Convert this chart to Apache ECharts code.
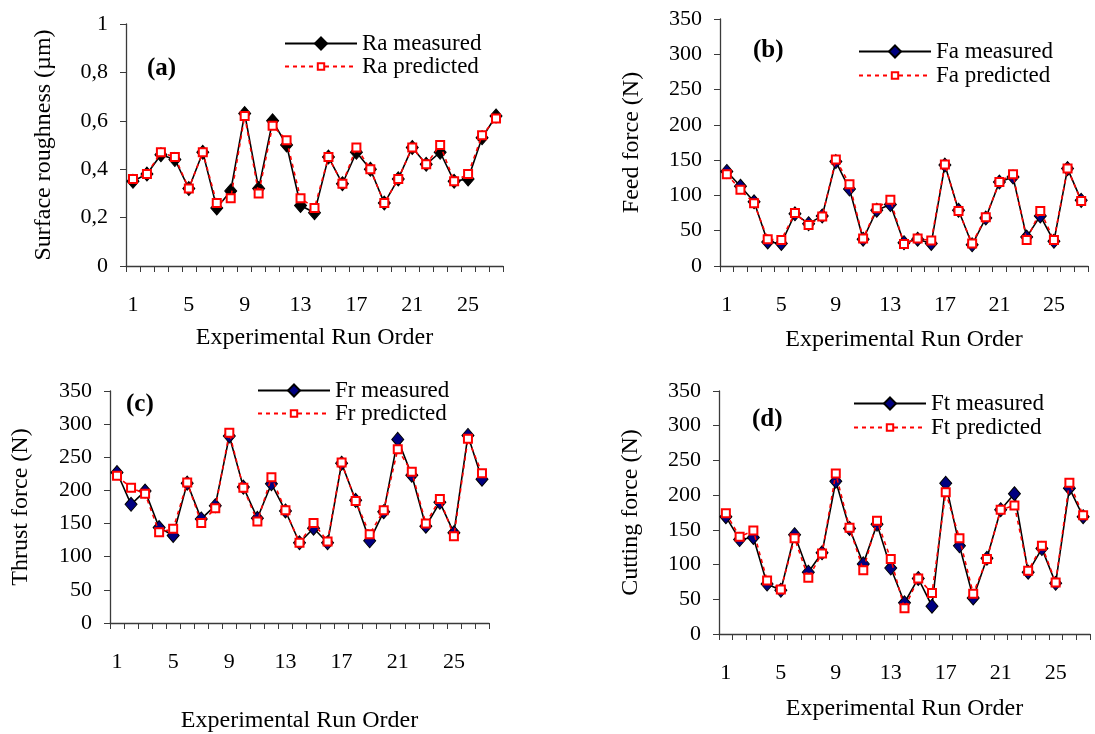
<!DOCTYPE html>
<html lang="en">
<head>
    <meta charset="UTF-8">
    <title>Measured vs predicted</title>
    <script src="https://cdn.jsdelivr.net/npm/echarts@6/dist/echarts.min.js"></script>
</head>
<body style="margin:0;background:#fff">
    <div id="chart" style="width:1095px;height:734px;"></div>
<script type="text/javascript">
    // run order categories (x axis)
    var runOrder = ['1','2','3','4','5','6','7','8','9','10','11','12','13','14','15','16','17','18','19','20','21','22','23','24','25','26','27'];

    // (a) surface roughness
    var raMeasured  = [0.35,0.38,0.46,0.44,0.32,0.47,0.24,0.31,0.63,0.32,0.60,0.50,0.25,0.22,0.45,0.34,0.47,0.40,0.26,0.36,0.49,0.42,0.47,0.35,0.36,0.53,0.62];
    var raPredicted = [0.36,0.38,0.47,0.45,0.32,0.47,0.26,0.28,0.62,0.30,0.58,0.52,0.28,0.24,0.45,0.34,0.49,0.40,0.26,0.36,0.49,0.42,0.50,0.35,0.38,0.54,0.61];

    // (b) feed force
    var faMeasured  = [134,113,91,34,32,74,60,71,148,109,38,79,87,33,38,32,143,79,30,68,119,126,41,71,35,138,93];
    var faPredicted = [130,108,89,38,37,75,58,70,151,116,39,82,94,31,39,36,144,78,32,69,119,130,37,78,37,138,92];

    // (c) thrust force
    var frMeasured  = [227,179,199,144,132,211,157,177,282,205,158,210,169,121,143,121,241,185,124,168,277,223,146,182,136,283,217];
    var frPredicted = [222,204,195,137,142,212,151,173,287,204,153,220,170,121,151,123,242,184,134,170,262,228,150,187,131,278,226];

    // (d) cutting force
    var ftMeasured  = [169,136,139,72,63,143,89,117,220,152,101,158,95,45,80,40,217,127,52,109,179,202,89,123,73,210,169];
    var ftPredicted = [174,140,149,77,64,138,81,116,231,153,92,163,108,37,80,59,204,138,58,108,179,185,91,127,74,218,171];

    var yLabelsA = ['0','0,2','0,4','0,6','0,8','1'];

    var FONT = "'Liberation Serif','Times New Roman',serif";
    var AXIS_COLOR = '#3a3a3a';

    var chart = echarts.init(document.getElementById('chart'));

    // one grid per panel
    var grids = [
        {left:126, right:592, top:24,  bottom:468},
        {left:720, right:7,   top:19,  bottom:468},
        {left:110, right:606, top:391, bottom:100},
        {left:719, right:5,   top:391, bottom:100}
    ];
    var xNameGaps = [60, 62, 86, 63];
    var yNames = ['Surface roughness (\u00b5m)','Feed force (N)','Thrust force (N)','Cutting force (N)'];
    var yNameGaps = [70, 76, 77, 76];

    function xAxisFor(i){
        return {
            type:'category', gridIndex:i, data:runOrder, boundaryGap:true,
            name:'Experimental Run Order', nameLocation:'middle', nameGap:xNameGaps[i],
            nameTextStyle:{fontFamily:FONT, fontSize:24, color:'#000'},
            axisLine:{lineStyle:{color:AXIS_COLOR, width:1.3}},
            axisTick:{show:true, interval:0, length:6, lineStyle:{color:AXIS_COLOR}},
            axisLabel:{interval:3, margin:28, fontFamily:FONT, fontSize:22, color:'#000'},
            splitLine:{show:false}
        };
    }
    function yAxisFor(i){
        var ax = {
            type:'value', gridIndex:i,
            name:yNames[i], nameLocation:'middle', nameGap:yNameGaps[i], nameRotate:90,
            nameTextStyle:{fontFamily:FONT, fontSize:24, color:'#000'},
            axisLine:{show:true, lineStyle:{color:AXIS_COLOR, width:1.3}},
            axisTick:{show:true, length:6, lineStyle:{color:AXIS_COLOR}},
            axisLabel:{margin:18, fontFamily:FONT, fontSize:22, color:'#000'},
            splitLine:{show:false}
        };
        if(i == 0){
            ax.min = 0; ax.max = 1; ax.interval = 0.2;
            ax.axisLabel.formatter = function(v){ return yLabelsA[Math.round(v/0.2)]; };
        }else{
            ax.min = 0; ax.max = 350; ax.interval = 50;
        }
        return ax;
    }

    function measuredSeries(name, data, i, fill){
        return {
            name:name, type:'line', xAxisIndex:i, yAxisIndex:i, data:data,
            symbol:'diamond', symbolSize:[12,14], showAllSymbol:true,
            lineStyle:{color:'#000', width:1.6},
            itemStyle:{color:fill, borderColor:'#000', borderWidth:1},
            z:2
        };
    }
    function predictedSeries(name, data, i){
        return {
            name:name, type:'line', xAxisIndex:i, yAxisIndex:i, data:data,
            symbol:'rect', symbolSize:8, showAllSymbol:true,
            lineStyle:{color:'#ff0000', width:1.6, type:[4,4]},
            itemStyle:{color:'#fff', borderColor:'#ff0000', borderWidth:2},
            z:3
        };
    }
    // measured and predicted rows get their own legend so the marks keep their sizes
    function legendFor(name, left, top, markH){
        return {
            data:[name], left:left, top:top, padding:0,
            itemWidth:72, itemHeight:markH, selectedMode:false,
            textStyle:{fontFamily:FONT, fontSize:23, color:'#000'}
        };
    }
    function panelTag(text, left, top){
        return {text:text, left:left, top:top, padding:0,
            textStyle:{fontFamily:FONT, fontSize:25, fontWeight:'bold', color:'#000'}};
    }

    chart.setOption({
        animation:false,
        grid:grids,
        title:[
            panelTag('(a)',147,56),
            panelTag('(b)',753,38),
            panelTag('(c)',126,392),
            panelTag('(d)',752,407)
        ],
        legend:[
            legendFor('Ra measured',284,32,15), legendFor('Ra predicted',284,55,8),
            legendFor('Fa measured',858,40,15), legendFor('Fa predicted',858,64,8),
            legendFor('Fr measured',257,379,15), legendFor('Fr predicted',257,402,8),
            legendFor('Ft measured',853,392,15), legendFor('Ft predicted',853,416,8)
        ],
        xAxis:[xAxisFor(0),xAxisFor(1),xAxisFor(2),xAxisFor(3)],
        yAxis:[yAxisFor(0),yAxisFor(1),yAxisFor(2),yAxisFor(3)],
        series:[
            measuredSeries('Ra measured', raMeasured, 0, '#000'),
            predictedSeries('Ra predicted', raPredicted, 0),
            measuredSeries('Fa measured', faMeasured, 1, '#000080'),
            predictedSeries('Fa predicted', faPredicted, 1),
            measuredSeries('Fr measured', frMeasured, 2, '#000080'),
            predictedSeries('Fr predicted', frPredicted, 2),
            measuredSeries('Ft measured', ftMeasured, 3, '#000080'),
            predictedSeries('Ft predicted', ftPredicted, 3)
        ]
    });
</script>
</body>
</html>
